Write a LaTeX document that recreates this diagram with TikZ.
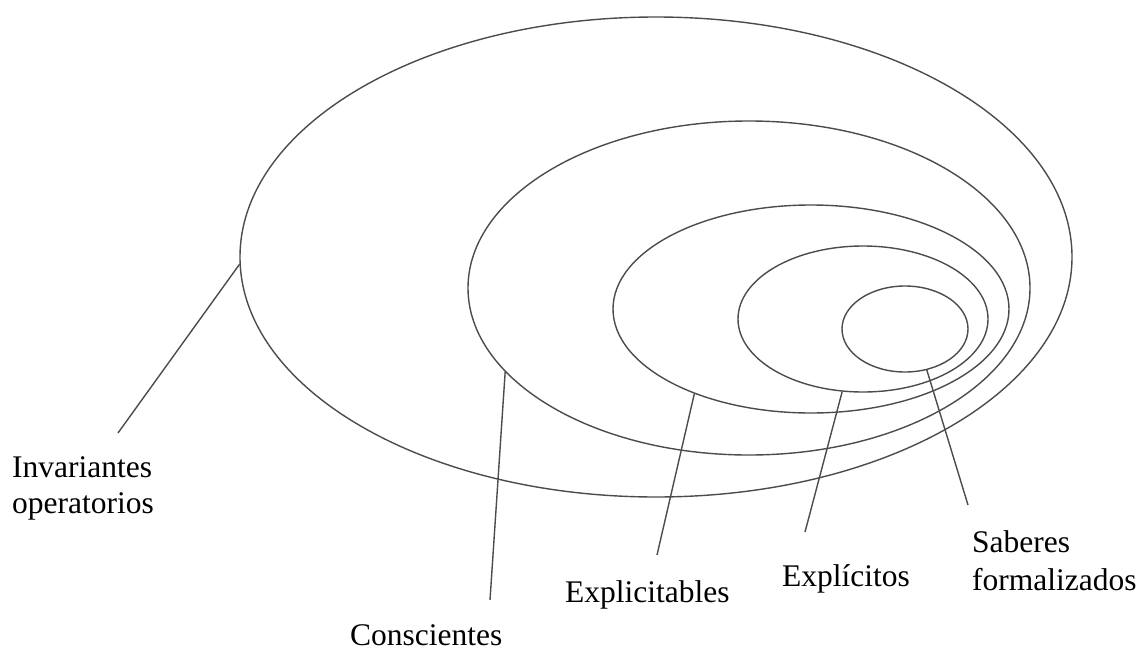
\documentclass[tikz,border=0pt]{standalone}
\usepackage{fontspec}
\setmainfont{Liberation Serif}
\usetikzlibrary{shapes.geometric}
\begin{document}
\begin{tikzpicture}[x=1pt,y=-1pt,
  ring/.style={draw=black!70, line width=1.4pt, ellipse, inner sep=0pt, minimum width=#1},
  leader/.style={draw=black!70, line width=1.4pt},
  lbl/.style={anchor=base west, inner sep=0pt, font=\fontsize{31.5}{37}\selectfont}]
\useasboundingbox[fill=white] (0,0) rectangle (1141,651);
% ellipses
\node[ring=832pt, minimum height=480pt] (inv) at (656,257) {};
\node[ring=562pt, minimum height=334pt] (con) at (749,288) {};
\node[ring=396pt, minimum height=208pt] (expl) at (811,309) {};
\node[ring=250pt, minimum height=146pt] (exp) at (863,319) {};
\node[ring=126pt, minimum height=86pt] (sab) at (905,329) {};
% free ends of leaders
\coordinate (invE) at (118,433);
\coordinate (conE) at (490,600);
\coordinate (explE) at (657,555);
\coordinate (expE) at (805,532);
\coordinate (sabE) at (968,505);
% leaders
\draw[leader] (inv.181.8) -- (invE);
\draw[leader] (con.199.6) -- (conE);
\draw[leader] (expl.216.4) -- (explE);
\draw[leader] (exp.254.2) -- (expE);
\draw[leader] (sab.298.2) -- (sabE);
% labels
\node[lbl] (tinv1) at (12,477) {Invariantes};
\node[lbl] (tinv2) at (12,513) {operatorios};
\node[lbl] (tcon) at (350,645) {Conscientes};
\node[lbl] (texpl) at (565,602) {Explicitables};
\node[lbl] (texp) at (782,586) {Explícitos};
\node[lbl] (tsab1) at (972,552) {Saberes};
\node[lbl] (tsab2) at (972,590) {formalizados};
\end{tikzpicture}
\end{document}
